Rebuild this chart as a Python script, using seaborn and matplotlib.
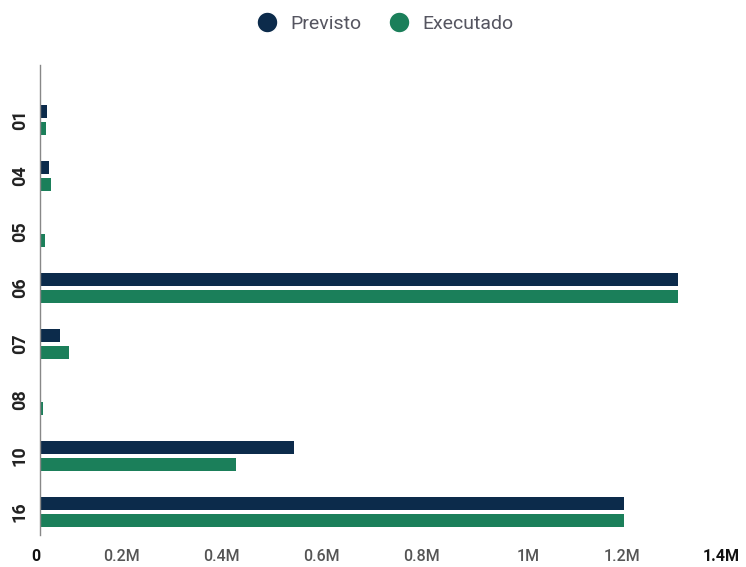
import matplotlib.pyplot as plt
import seaborn as sns
import pandas as pd
from matplotlib.lines import Line2D

sns.set_style('white')
plt.rcParams['font.family'] = ['Roboto', 'DejaVu Sans']

categorias = ['01', '04', '05', '06', '07', '08', '10', '16']
previsto = [14000, 18000, 0, 1276000, 40000, 0, 508000, 1168000]
executado = [12000, 22000, 10000, 1276000, 58000, 6000, 392000, 1168000]
series = ['Previsto', 'Executado']
cores = ['#0c2b4b', '#1b7f5a']
ticks = [0, 200000, 400000, 600000, 800000, 1000000, 1200000, 1400000]
tick_labels = ['0', '0.2M', '0.4M', '0.6M', '0.8M', '1M', '1.2M', '1.4M']

df = pd.DataFrame({
    'categoria': categorias * 2,
    'valor': previsto + executado,
    'serie': [series[0]] * len(categorias) + [series[1]] * len(categorias),
})

fig = plt.figure(figsize=(7.46, 5.67), dpi=100)
ax = fig.add_axes([40 / 746, 32 / 567, 700 / 746, 470 / 567])

sns.barplot(data=df, y='categoria', x='valor', hue='serie', order=categorias,
            hue_order=series, palette=cores, orient='h', width=0.6, gap=0.2,
            linewidth=0, saturation=1, legend=False, ax=ax)

ax.set_xlim(0, 1400000)
ax.set_ylim(7.41, -0.98)
ax.set_xlabel('')
ax.set_ylabel('')
for s in ['top', 'right', 'bottom']:
    ax.spines[s].set_visible(False)
ax.spines['left'].set_color('#888888')
ax.spines['left'].set_linewidth(1)

ax.set_xticks(ticks)
ax.set_xticklabels(tick_labels, ha='right')
ax.tick_params(axis='x', length=0, pad=10, labelsize=11.5)
for i, lbl in enumerate(ax.get_xticklabels()):
    if i in (0, len(ticks) - 1):
        lbl.set_color('#111111')
        lbl.set_fontweight('bold')
    else:
        lbl.set_color('#555555')
        lbl.set_fontweight('medium')

ax.set_yticks(range(len(categorias)))
ax.set_yticklabels(categorias, rotation=90, va='center', fontsize=13,
                   fontweight='bold', color='#222222')
ax.tick_params(axis='y', length=0, pad=8)

handles = [Line2D([0], [0], marker='o', color='w', markerfacecolor=c,
                  markersize=15, linewidth=0) for c in cores]
fig.legend(handles, series, loc='upper center', bbox_to_anchor=(0.51, 1.005),
           ncol=2, frameon=False, fontsize=14, handletextpad=0.2,
           columnspacing=0.9, labelcolor='#555560')

fig.savefig('out.png', dpi=100)
